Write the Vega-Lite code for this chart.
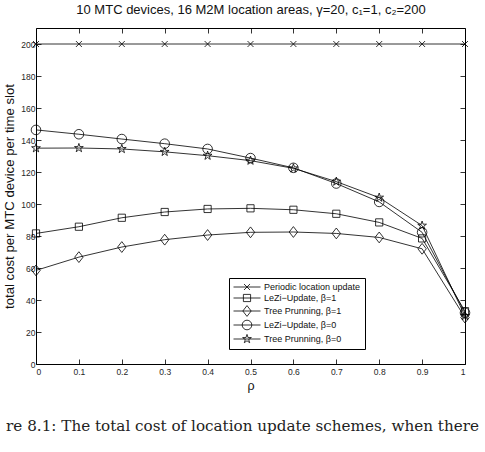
{
  "$schema": "https://vega.github.io/schema/vega-lite/v6.json",
  "width": 429,
  "height": 336,
  "autosize": {"type": "none"},
  "padding": {"left": 36, "top": 28, "right": 20, "bottom": 88},
  "background": "white",
  "config": {
    "view": {"stroke": "black", "strokeWidth": 1},
    "font": "Liberation Sans",
    "axis": {"grid": false, "domain": false, "tickColor": "black", "tickWidth": 0.8, "labelFont": "Liberation Sans", "labelFontSize": 8.5, "labelColor": "#262626", "titleFont": "Liberation Sans", "titleFontWeight": "normal", "titleColor": "#111"}
  },
  "title": {"text": "re 8.1:  The total cost of location update schemes, when there", "orient": "bottom", "anchor": "middle", "font": "DejaVu Serif", "fontSize": 15.2, "fontWeight": "normal", "color": "#222", "offset": 27, "dx": -8},
  "data": {"values": [
    {"rho": 0, "cost": 200, "series": "Periodic location update"},
    {"rho": 0.1, "cost": 200, "series": "Periodic location update"},
    {"rho": 0.2, "cost": 200, "series": "Periodic location update"},
    {"rho": 0.3, "cost": 200, "series": "Periodic location update"},
    {"rho": 0.4, "cost": 200, "series": "Periodic location update"},
    {"rho": 0.5, "cost": 200, "series": "Periodic location update"},
    {"rho": 0.6, "cost": 200, "series": "Periodic location update"},
    {"rho": 0.7, "cost": 200, "series": "Periodic location update"},
    {"rho": 0.8, "cost": 200, "series": "Periodic location update"},
    {"rho": 0.9, "cost": 200, "series": "Periodic location update"},
    {"rho": 1, "cost": 200, "series": "Periodic location update"},
    {"rho": 0, "cost": 81.6, "series": "LeZi−Update, β=1"},
    {"rho": 0.1, "cost": 85.8, "series": "LeZi−Update, β=1"},
    {"rho": 0.2, "cost": 91.4, "series": "LeZi−Update, β=1"},
    {"rho": 0.3, "cost": 95.0, "series": "LeZi−Update, β=1"},
    {"rho": 0.4, "cost": 96.9, "series": "LeZi−Update, β=1"},
    {"rho": 0.5, "cost": 97.3, "series": "LeZi−Update, β=1"},
    {"rho": 0.6, "cost": 96.4, "series": "LeZi−Update, β=1"},
    {"rho": 0.7, "cost": 93.9, "series": "LeZi−Update, β=1"},
    {"rho": 0.8, "cost": 88.5, "series": "LeZi−Update, β=1"},
    {"rho": 0.9, "cost": 78.5, "series": "LeZi−Update, β=1"},
    {"rho": 1, "cost": 33, "series": "LeZi−Update, β=1"},
    {"rho": 0, "cost": 58.5, "series": "Tree Prunning, β=1"},
    {"rho": 0.1, "cost": 66.8, "series": "Tree Prunning, β=1"},
    {"rho": 0.2, "cost": 73.1, "series": "Tree Prunning, β=1"},
    {"rho": 0.3, "cost": 77.7, "series": "Tree Prunning, β=1"},
    {"rho": 0.4, "cost": 80.6, "series": "Tree Prunning, β=1"},
    {"rho": 0.5, "cost": 82.3, "series": "Tree Prunning, β=1"},
    {"rho": 0.6, "cost": 82.5, "series": "Tree Prunning, β=1"},
    {"rho": 0.7, "cost": 81.6, "series": "Tree Prunning, β=1"},
    {"rho": 0.8, "cost": 79.1, "series": "Tree Prunning, β=1"},
    {"rho": 0.9, "cost": 72.0, "series": "Tree Prunning, β=1"},
    {"rho": 1, "cost": 29, "series": "Tree Prunning, β=1"},
    {"rho": 0, "cost": 146.3, "series": "LeZi−Update, β=0"},
    {"rho": 0.1, "cost": 143.6, "series": "LeZi−Update, β=0"},
    {"rho": 0.2, "cost": 140.6, "series": "LeZi−Update, β=0"},
    {"rho": 0.3, "cost": 137.7, "series": "LeZi−Update, β=0"},
    {"rho": 0.4, "cost": 134.4, "series": "LeZi−Update, β=0"},
    {"rho": 0.5, "cost": 128.7, "series": "LeZi−Update, β=0"},
    {"rho": 0.6, "cost": 122.6, "series": "LeZi−Update, β=0"},
    {"rho": 0.7, "cost": 112.8, "series": "LeZi−Update, β=0"},
    {"rho": 0.8, "cost": 101.3, "series": "LeZi−Update, β=0"},
    {"rho": 0.9, "cost": 82.3, "series": "LeZi−Update, β=0"},
    {"rho": 1, "cost": 32, "series": "LeZi−Update, β=0"},
    {"rho": 0, "cost": 134.9, "series": "Tree Prunning, β=0"},
    {"rho": 0.1, "cost": 135.0, "series": "Tree Prunning, β=0"},
    {"rho": 0.2, "cost": 134.4, "series": "Tree Prunning, β=0"},
    {"rho": 0.3, "cost": 132.6, "series": "Tree Prunning, β=0"},
    {"rho": 0.4, "cost": 130.2, "series": "Tree Prunning, β=0"},
    {"rho": 0.5, "cost": 127.1, "series": "Tree Prunning, β=0"},
    {"rho": 0.6, "cost": 122.3, "series": "Tree Prunning, β=0"},
    {"rho": 0.7, "cost": 114.0, "series": "Tree Prunning, β=0"},
    {"rho": 0.8, "cost": 104.0, "series": "Tree Prunning, β=0"},
    {"rho": 0.9, "cost": 86.5, "series": "Tree Prunning, β=0"},
    {"rho": 1, "cost": 30, "series": "Tree Prunning, β=0"}
  ]},
  "resolve": {"axis": {"x": "independent", "y": "independent"}, "scale": {"shape": "independent"}, "legend": {"shape": "independent"}},
  "layer": [
    {
      "mark": {"type": "line", "color": "black", "strokeWidth": 0.8},
      "encoding": {
        "x": {"field": "rho", "type": "quantitative", "scale": {"domain": [0, 1], "nice": false, "zero": false},
              "axis": {"values": [0, 0.1, 0.2, 0.3, 0.4, 0.5, 0.6, 0.7, 0.8, 0.9, 1], "format": "~g", "tickSize": -5, "labelPadding": 8, "title": "ρ", "titleFontSize": 12.5, "titlePadding": 4}},
        "y": {"field": "cost", "type": "quantitative", "scale": {"domain": [0, 210], "nice": false},
              "axis": {"values": [0, 20, 40, 60, 80, 100, 120, 140, 160, 180, 200], "tickSize": -5, "labelPadding": 6, "title": "total cost per MTC device per time slot", "titleFontSize": 13.2, "titlePadding": 4}},
        "detail": {"field": "series"},
        "order": {"field": "rho", "type": "quantitative"}
      }
    },
    {
      "mark": {"type": "point", "filled": false, "stroke": "black", "strokeWidth": 0.8, "size": 64, "opacity": 1},
      "encoding": {
        "x": {"field": "rho", "type": "quantitative",
              "axis": {"orient": "top", "values": [0, 0.1, 0.2, 0.3, 0.4, 0.5, 0.6, 0.7, 0.8, 0.9, 1], "labels": false, "tickSize": -5, "title": "10 MTC devices, 16 M2M location areas, γ=20, c₁=1, c₂=200", "titleFontSize": 13, "titlePadding": 11}},
        "y": {"field": "cost", "type": "quantitative",
              "axis": {"orient": "right", "values": [0, 20, 40, 60, 80, 100, 120, 140, 160, 180, 200], "labels": false, "tickSize": -5, "title": null}},
        "shape": {"field": "series", "type": "nominal", "legend": null,
                  "scale": {"domain": ["Periodic location update", "LeZi−Update, β=1", "Tree Prunning, β=1", "LeZi−Update, β=0", "Tree Prunning, β=0"],
                            "range": ["M-0.75,-0.75L0.75,0.75M-0.75,0.75L0.75,-0.75", "M-0.9,-0.9H0.9V0.9H-0.9Z", "M0,-1.35L1.05,0L0,1.35L-1.05,0Z", "M-1.2,0A1.2,1.2,0,1,0,1.2,0A1.2,1.2,0,1,0,-1.2,0Z", "M0,-1.15L0.259,-0.355L1.094,-0.355L0.417,0.136L0.676,0.93L0,0.439L-0.676,0.93L-0.417,0.136L-1.094,-0.355L-0.259,-0.355Z"]}}
      }
    },
    {
      "mark": {"type": "point", "filled": false, "stroke": "black", "strokeWidth": 0.8, "size": 81, "opacity": 0},
      "encoding": {
        "x": {"field": "rho", "type": "quantitative", "axis": null},
        "y": {"field": "cost", "type": "quantitative", "axis": null},
        "shape": {"field": "series", "type": "nominal",
                  "scale": {"domain": ["Periodic location update", "LeZi−Update, β=1", "Tree Prunning, β=1", "LeZi−Update, β=0", "Tree Prunning, β=0"],
                            "range": ["M-3,0H3M-0.67,-0.67L0.67,0.67M-0.67,0.67L0.67,-0.67", "M-3,0H3M-0.8,-0.8H0.8V0.8H-0.8Z", "M-3,0H3M0,-1.2L0.93,0L0,1.2L-0.93,0Z", "M-3,0H3M-1.07,0A1.07,1.07,0,1,0,1.07,0A1.07,1.07,0,1,0,-1.07,0Z", "M-3,0H3M0,-1.02L0.23,-0.315L0.97,-0.315L0.37,0.12L0.6,0.825L0,0.39L-0.6,0.825L-0.37,0.12L-0.97,-0.315L-0.23,-0.315Z"]},
                  "legend": {"orient": "none", "legendX": 193, "legendY": 250, "title": null, "strokeColor": "black", "fillColor": "white", "padding": 4,
                             "symbolSize": 81, "symbolStrokeColor": "black", "symbolFillColor": "transparent", "symbolStrokeWidth": 0.8, "symbolOpacity": 1,
                             "symbolOffset": 9, "labelOffset": 12, "labelFontSize": 9, "labelFont": "Liberation Sans", "labelColor": "#111", "rowPadding": 0, "labelLimit": 0}}
      }
    }
  ]
}
